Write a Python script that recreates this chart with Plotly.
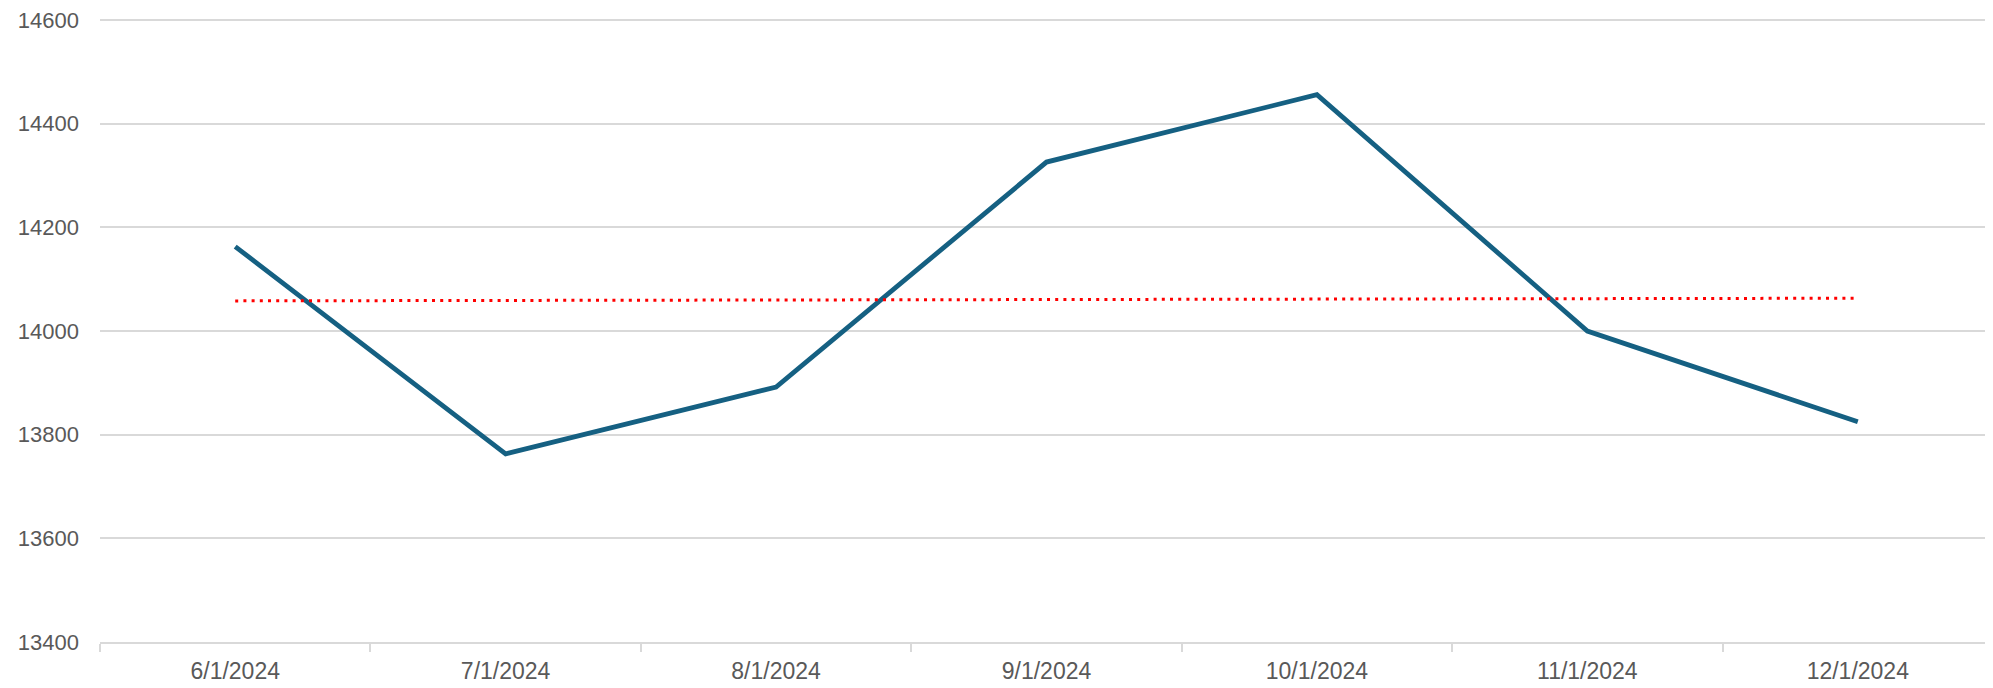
import numpy as np
import plotly.graph_objects as go

dates = ["6/1/2024", "7/1/2024", "8/1/2024", "9/1/2024", "10/1/2024", "11/1/2024", "12/1/2024"]
values = [14163, 13763, 13892, 14326, 14456, 14000, 13825]
y_ticks = [13400, 13600, 13800, 14000, 14200, 14400, 14600]

# linear trendline (least squares on category index)
idx = np.arange(len(values))
slope, intercept = np.polyfit(idx, values, 1)
trend = slope * idx + intercept

fig = go.Figure()
fig.add_trace(go.Scatter(
    x=dates, y=values, mode="lines",
    line=dict(color="#156082", width=4.8),
    showlegend=False, hoverinfo="x+y",
))
fig.add_trace(go.Scatter(
    x=dates, y=trend, mode="lines",
    line=dict(color="#ff0000", width=3, dash="3px,5.2px"),
    showlegend=False, hoverinfo="skip",
))

font_color = "#595959"
fig.update_layout(
    width=1985, height=678,
    margin=dict(l=92, r=0, t=6, b=44),
    paper_bgcolor="white", plot_bgcolor="white",
    font=dict(family="Liberation Sans, Arial, sans-serif", size=22, color=font_color),
    xaxis=dict(
        type="category", range=[-0.5, 6.5],
        showgrid=False, showline=True, linecolor="#d9d9d9", linewidth=1.5,
        ticks="outside", tickson="boundaries", ticklen=8, tickcolor="#d9d9d9", tickwidth=1.5,
        tickfont=dict(size=23, color=font_color),
        ticklabelstandoff=8,
        zeroline=False,
    ),
    yaxis=dict(
        range=[13400, 14602], tickvals=y_ticks, tickformat="d",
        showgrid=True, gridcolor="#d9d9d9", gridwidth=1.5,
        showline=False, zeroline=False, ticks="",
        tickfont=dict(size=22, color=font_color),
        ticklabelstandoff=20,
        ticklabeloverflow="allow",
    ),
)

fig.write_html("out.html")
